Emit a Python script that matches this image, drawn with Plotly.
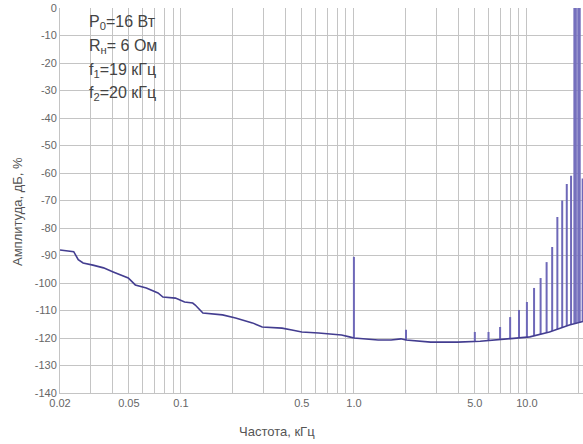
import numpy as np
import plotly.graph_objects as go

# Noise floor of the spectrum (frequency in kHz, level in dB)
floor_f = [0.02, 0.022, 0.024, 0.0255, 0.0272, 0.031, 0.0357, 0.0406, 0.045, 0.0496,
           0.0545, 0.0631, 0.0737, 0.0787, 0.093, 0.105, 0.117, 0.121, 0.134, 0.174,
           0.207, 0.259, 0.295, 0.384, 0.438, 0.50, 0.625, 0.848, 0.942, 1.0,
           1.38, 1.64, 1.87, 2.0, 2.78, 3.97, 5.37, 7.3, 10.4, 13.5, 17.6, 21.1]
floor_db = [-88.0, -88.3, -88.6, -91.5, -92.7, -93.5, -94.5, -96.0, -97.0, -98.2,
            -100.7, -101.8, -103.6, -105.1, -105.5, -106.9, -107.3, -108.0, -110.9, -111.6,
            -112.7, -114.5, -116.0, -116.4, -117.1, -117.8, -118.2, -118.9, -119.6, -120.0,
            -120.7, -120.7, -120.3, -120.7, -121.5, -121.5, -121.2, -120.5, -119.6, -117.8, -115.3, -114.0]

# Spectral lines (intermodulation products and test tones)
spike_f = [1.0, 2.0, 5.0, 6.0, 7.0, 8.0, 9.0, 10.0, 11.0, 12.0, 13.0, 14.0, 15.0, 16.0, 17.0, 18.0, 21.0]
spike_db = [-90.5, -117.0, -117.8, -117.8, -116.0, -112.4, -109.8, -106.9, -101.8, -98.2,
            -92.4, -86.9, -76.0, -70.0, -64.0, -61.0, -62.0]
tone_f = [19.0, 20.0]
tone_db = [0.0, 0.0]

# Axis ticks
grid_vals = [0.02, 0.03, 0.04, 0.05, 0.06, 0.07, 0.08, 0.09,
             0.1, 0.2, 0.3, 0.4, 0.5, 0.6, 0.7, 0.8, 0.9,
             1, 2, 3, 4, 5, 6, 7, 8, 9, 10, 20]
label_map = {0.02: "0.02", 0.05: "0.05", 0.1: "0.1", 0.5: "0.5", 1: "1.0", 5: "5.0", 10: "10.0"}
grid_text = [label_map.get(v, "") for v in grid_vals]
y_vals = list(range(-140, 1, 10))
y_text = [str(v) for v in y_vals]

legend_lines = ["P<sub>0</sub>=16 Вт", "R<sub>н</sub>= 6 Ом", "f<sub>1</sub>=19 кГц", "f<sub>2</sub>=20 кГц"]

FONT = "Liberation Sans Narrow, Arial Narrow, Liberation Sans, sans-serif"


def segments(fs, dbs):
    base = np.interp(np.log10(fs), np.log10(floor_f), floor_db)
    xs, ys = [], []
    for f, b, d in zip(fs, base, dbs):
        xs += [f, f, None]
        ys += [b, d, None]
    return xs, ys


fig = go.Figure()
sx, sy = segments(spike_f, spike_db)
fig.add_trace(go.Scatter(x=sx, y=sy, mode="lines", line=dict(color="#6e68b8", width=2),
                         showlegend=False, hoverinfo="skip"))
tx, ty = segments(tone_f, tone_db)
fig.add_trace(go.Scatter(x=tx, y=ty, mode="lines", line=dict(color="#7570bd", width=3.5),
                         showlegend=False, hoverinfo="skip"))
fig.add_trace(go.Scatter(x=floor_f, y=floor_db, mode="lines",
                         line=dict(color="#433d90", width=1.6), showlegend=False))

fig.update_layout(
    width=583, height=444,
    margin=dict(l=60, r=0, t=8, b=51),
    paper_bgcolor="white", plot_bgcolor="white",
    font=dict(family=FONT, color="#666666", size=11),
    xaxis=dict(type="log", range=[np.log10(0.02), np.log10(21.1)],
               tickmode="array", tickvals=grid_vals, ticktext=grid_text, tickangle=0,
               showgrid=True, gridcolor="#c4c4c4", gridwidth=1,
               zeroline=False, showline=True, linecolor="#c4c4c4", ticks="",
               tickfont=dict(size=11, color="#666666")),
    yaxis=dict(range=[-140, 0], tickmode="array", tickvals=y_vals, ticktext=y_text,
               showgrid=True, gridcolor="#c4c4c4", gridwidth=1,
               zeroline=False, showline=True, linecolor="#c4c4c4", ticks="",
               tickfont=dict(size=11, color="#666666")),
)

fig.add_shape(type="rect", xref="paper", yref="paper", x0=0.003, x1=0.207, y0=0.73, y1=0.995,
              fillcolor="white", line=dict(width=0), layer="below")

line_y = [22, 46, 70, 94]
for txt, py in zip(legend_lines, line_y):
    fig.add_annotation(x=(87 - 60) / 523, y=(393 - py) / 385, xref="paper", yref="paper",
                       text=txt, showarrow=False, xanchor="left", yanchor="middle",
                       font=dict(family=FONT, size=16, color="#444444"))

fig.add_annotation(x=(18 - 60) / 523, y=(393 - 212) / 385, xref="paper", yref="paper",
                   text="Амплитуда, дБ, %", textangle=-90, showarrow=False,
                   xanchor="center", yanchor="middle",
                   font=dict(family=FONT, size=13, color="#555555"))
fig.add_annotation(x=(277 - 60) / 523, y=(393 - 432) / 385, xref="paper", yref="paper",
                   text="Частота, кГц", showarrow=False, xanchor="center", yanchor="middle",
                   font=dict(family=FONT, size=13, color="#555555"))

fig.write_html("out.html")
